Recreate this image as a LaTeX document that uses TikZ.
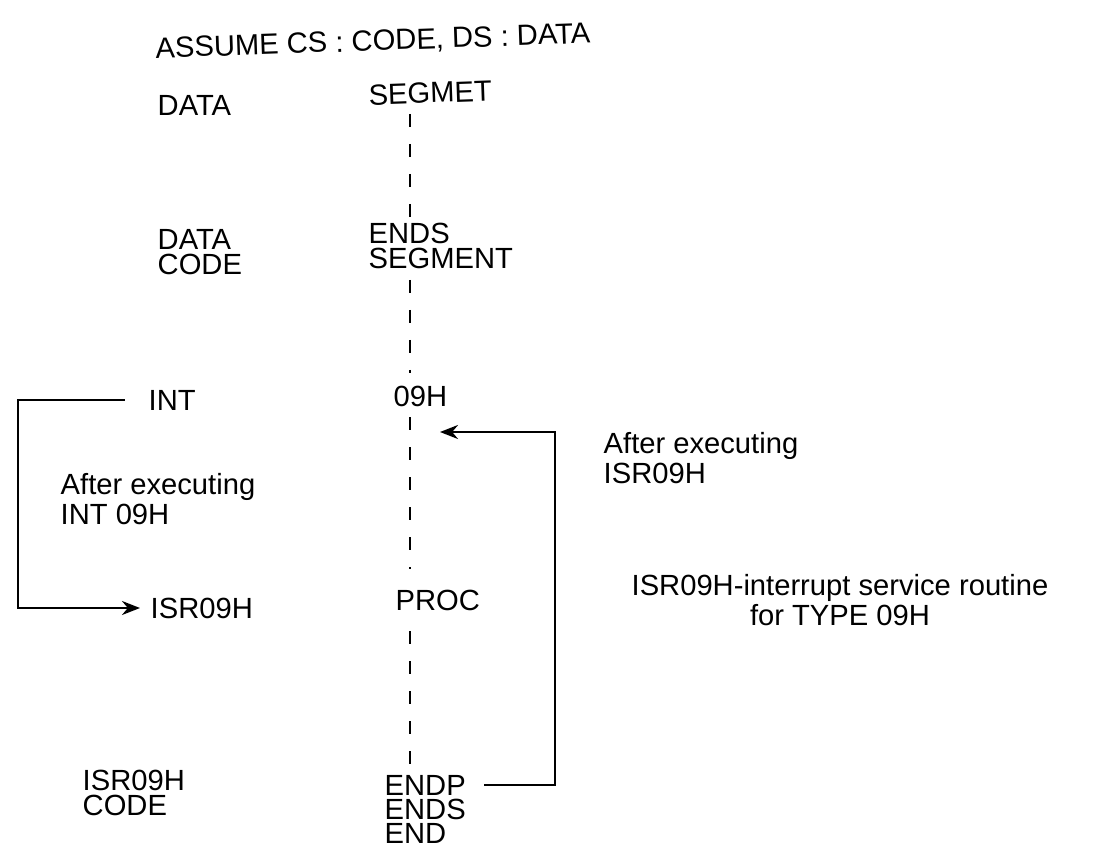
\documentclass[tikz,border=0pt]{standalone}
\usepackage{fontspec}
\setmainfont{Liberation Sans}
\usetikzlibrary{arrows.meta}

\begin{document}
\begin{tikzpicture}[
    every node/.style={font=\fontsize{8.3}{7.3}\selectfont,inner sep=0pt},
    code/.style={anchor=west,align=left},
    spine/.style={line width=0.7pt,dash pattern=on 1.3mm off 1.7mm},
    flow/.style={line width=0.7pt,-{Stealth[length=1.8mm,width=1.4mm]}}]
  \useasboundingbox (0,0) rectangle (11.07,-8.45);
  \coordinate (axis) at (4.10,0);
  \coordinate (back) at (5.55,0);
  % directives and labels
  \node[code,rotate=2] (assume) at (1.55,-0.50) {ASSUME CS : CODE, DS : DATA};
  \node[code] (data1) at (1.57,-1.05) {DATA};
  \node[code,rotate=2] (segmet) at (3.68,-0.95) {SEGMET};
  \node[code] (datacode) at (1.57,-2.52) {DATA\\CODE};
  \node[code] (endsseg) at (3.68,-2.46) {ENDS\\SEGMENT};
  \node[code] (int) at (1.48,-4.00) {INT};
  \node[code] (ooh) at (3.93,-3.96) {09H};
  \node[code] (aftint) at (0.60,-4.99) {After executing\\INT 09H};
  \node[code] (isr) at (1.50,-6.08) {ISR09H};
  \node[code] (proc) at (3.95,-6.00) {PROC};
  \node[code] (aftisr) at (6.03,-4.58) {After executing\\ISR09H};
  \node[align=center] (note) at (8.40,-6.00) {ISR09H-interrupt service routine\\for TYPE 09H};
  \node[code] (isrcode) at (0.82,-7.93) {ISR09H\\CODE};
  \node[code] (endp) at (3.84,-7.85) {ENDP};
  \node[code] (endss) at (3.84,-8.09) {ENDS};
  \node[code] (endd) at (3.84,-8.33) {END};
  \coordinate (ret) at (4.40,-4.32);
  % program flow, dashed
  \draw[spine] ([yshift=-1mm]segmet.south -| axis) -- ([yshift=-0.6mm]endsseg.north -| axis);
  \draw[spine] ([yshift=-1mm]endsseg.south -| axis) -- ([yshift=1.2mm]ooh.north -| axis);
  \draw[spine] ([yshift=-1mm]ooh.south -| axis) -- ([yshift=2mm]proc.north -| axis);
  \draw[spine] ([yshift=-2mm]proc.south -| axis) -- ([yshift=1mm]endp.north -| axis);
  % jumps
  \draw[flow] ([xshift=-2.3mm]int.west) -- ++(-1.07,0) |- ([xshift=-1mm]isr.west);
  \draw[flow] ([xshift=1.8mm]endp.east) -- (endp.east -| back) |- (ret);
\end{tikzpicture}
\end{document}
